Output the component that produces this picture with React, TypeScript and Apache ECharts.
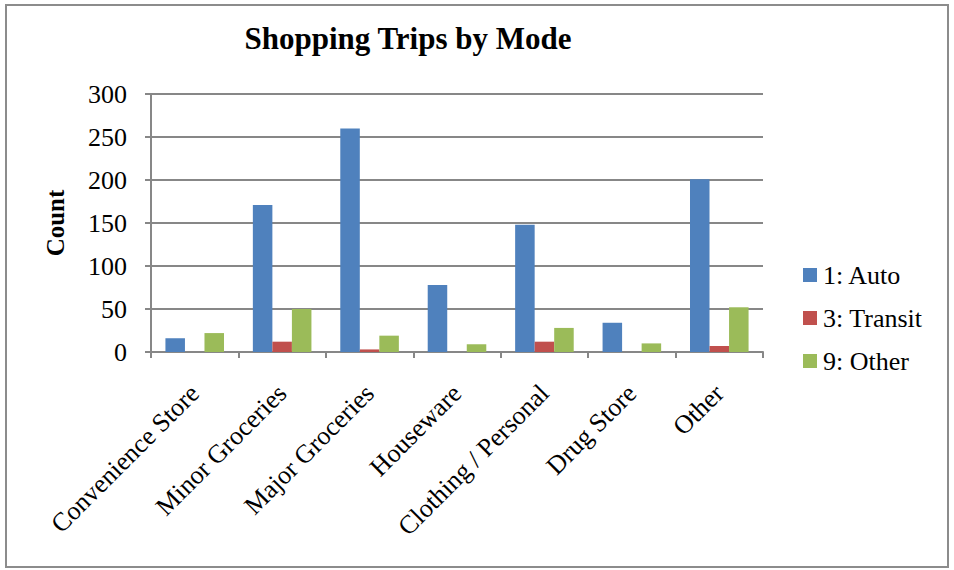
import React, { useEffect, useRef } from "react";
import * as echarts from "echarts";

const categories = [
  "Convenience Store",
  "Minor Groceries",
  "Major Groceries",
  "Houseware",
  "Clothing / Personal",
  "Drug Store",
  "Other",
];
const autoValues = [16, 171, 260, 78, 148, 34, 201];
const transitValues = [0, 12, 3, 0, 12, 0, 7];
const otherValues = [22, 50, 19, 9, 28, 10, 52];
const seriesNames = ["1: Auto", "3: Transit", "9: Other"];
const colors = ["#4F81BD", "#C0504D", "#9BBB59"];

const FONT = "'Liberation Serif', 'Times New Roman', serif";
const GRAY = "#878787";

export default function App() {
  const ref = useRef<HTMLDivElement>(null);
  useEffect(() => {
    if (!ref.current) return;
    const chart = echarts.init(ref.current, null, { renderer: "svg" });
    const mk = (name: string, data: number[], color: string) => ({
      name,
      type: "bar",
      data,
      itemStyle: { color },
      barGap: "0%",
      barCategoryGap: "33%",
    });
    chart.setOption({
      animation: false,
      backgroundColor: "#ffffff",
      textStyle: { fontFamily: FONT },
      title: {
        text: "Shopping Trips by Mode",
        left: 403,
        top: 18,
        textAlign: "center",
        textStyle: { fontFamily: FONT, fontWeight: "bold", fontSize: 31, color: "#000" },
      },
      graphic: [
        {
          type: "rect",
          shape: { x: 6, y: 5, width: 942, height: 562 },
          style: { fill: "none", stroke: "#8c8c8c", lineWidth: 2 },
          silent: true,
        },
      ],
      legend: {
        orient: "vertical",
        left: 803,
        top: 262,
        padding: 0,
        itemWidth: 14,
        itemHeight: 14,
        itemGap: 17,
        icon: "rect",
        textStyle: { fontFamily: FONT, fontSize: 26, color: "#000", padding: [0, 0, 0, 1] },
        data: seriesNames,
      },
      grid: { left: 151, right: 191, top: 94, bottom: 218, containLabel: false },
      xAxis: {
        type: "category",
        data: categories,
        axisLine: { lineStyle: { color: GRAY, width: 2 } },
        axisTick: { show: true, length: 6, lineStyle: { color: GRAY, width: 2 } },
        axisLabel: {
          rotate: 45,
          interval: 0,
          margin: 37,
          fontFamily: FONT,
          fontSize: 26,
          color: "#000",
        },
      },
      yAxis: {
        type: "value",
        min: 0,
        max: 300,
        interval: 50,
        name: "Count",
        nameLocation: "middle",
        nameGap: 83,
        nameTextStyle: { fontFamily: FONT, fontWeight: "bold", fontSize: 25, color: "#000" },
        axisLine: { show: true, lineStyle: { color: GRAY, width: 2 } },
        axisTick: { show: true, length: 6, lineStyle: { color: GRAY, width: 2 } },
        splitLine: { lineStyle: { color: GRAY, width: 2 } },
        axisLabel: { margin: 24, fontFamily: FONT, fontSize: 26, color: "#000" },
      },
      series: [
        mk(seriesNames[0], autoValues, colors[0]),
        mk(seriesNames[1], transitValues, colors[1]),
        mk(seriesNames[2], otherValues, colors[2]),
      ],
    });
    return () => chart.dispose();
  }, []);
  return (
    <div
      ref={ref}
      style={{ position: "fixed", left: 0, top: 0, width: 954, height: 570 }}
    />
  );
}
